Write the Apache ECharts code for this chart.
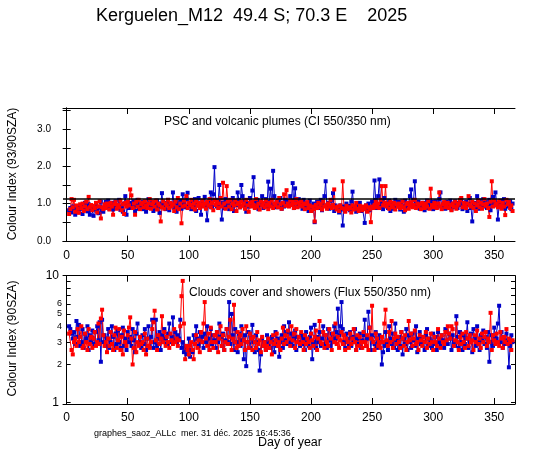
<!DOCTYPE html>
<html lang="fr">
  <head>
    <meta charset="UTF-8" />
    <title>Kerguelen_M12 2025</title>
    <style>
      html, body { margin: 0; padding: 0; background: #fff; }
    </style>
  </head>
  <body>
    <div id="main" style="width: 547px; height: 455px"></div>
    <script src="https://cdn.jsdelivr.net/npm/echarts@6.0.0/dist/echarts.min.js"></script>
    <script>
      // first day of year with a measurement, values follow day by day
      const firstDay = 2;
      const dayTicks = [0, 50, 100, 150, 200, 250, 300, 350];

      // top panel: colour index 550/350 nm, 93/90 SZA
      const ciLabels = [0, 1, 2, 3];
      const ciTicks = [0, 0.5, 1, 1.5, 2, 2.5, 3, 3.5];
      const ciRefLevel = 1.13;

      const ciBlue = [
        0.82, 0.88, 0.76, 0.92, 0.85, 0.70, 0.80, 0.93, 0.78, 0.86,
        0.95, 0.72, 0.88, 1.02, 0.84, 0.79, 0.98, 0.70, 0.88, 0.92,
        0.67, 0.85, 1.00, 0.80, 0.74, 0.90, 1.05, 0.83, 0.78, 0.95,
        1.05, 0.90, 1.08, 0.86, 0.98, 1.02, 0.84, 0.92, 1.06, 0.88,
        0.96, 1.10, 0.83, 0.92, 0.78, 1.00, 1.20, 0.70, 0.95, 0.88,
        1.02, 0.92, 0.98, 1.06, 0.80, 0.95, 1.10, 0.86, 0.98, 0.90,
        1.04, 0.85, 0.96, 0.78, 1.00, 1.12, 0.88, 0.94, 1.05, 0.80,
        0.98, 0.86, 1.08, 0.92, 0.75, 1.00, 1.28, 0.90, 1.02, 0.85,
        0.96, 1.10, 0.82, 1.00, 0.93, 1.30, 0.88, 1.05, 0.78, 1.00,
        0.92, 1.08, 0.86, 1.25, 0.98, 0.90, 1.12, 1.29, 0.94, 1.02,
        0.85, 1.06, 0.96, 1.12, 0.80, 1.00, 1.15, 0.92, 0.70, 1.05,
        0.98, 1.18, 0.88, 0.55, 0.95, 1.08, 1.30, 0.90, 1.25, 1.98,
        1.10, 0.92, 1.05, 1.50, 0.95, 0.57, 1.02, 0.88, 1.12, 0.95,
        1.00, 0.85, 1.08, 0.92, 1.15, 0.80, 1.05, 0.96, 1.30, 1.10,
        0.90, 1.50, 1.20, 0.95, 1.08, 0.78, 1.02, 0.92, 1.15, 0.98,
        1.35, 1.71, 1.05, 0.90, 1.10, 0.85, 1.02, 0.96, 1.20, 0.88,
        1.00, 1.12, 0.92, 1.59, 1.05, 1.40, 0.95, 1.88, 1.20, 1.00,
        0.90, 1.08, 0.96, 1.15, 0.86, 1.02, 0.92, 1.10, 0.98, 1.05,
        1.00, 1.20, 1.08, 1.55, 0.88, 1.41, 1.00, 0.92, 1.12, 0.95,
        1.05, 0.86, 1.10, 0.98, 0.90, 1.02, 0.80, 1.08, 0.95, 0.85,
        1.00, 0.50, 0.92, 1.05, 0.88, 0.96, 1.10, 0.82, 0.98, 1.20,
        1.60, 0.95, 1.02, 0.86, 0.92, 1.08, 1.28, 0.80, 0.95, 0.88,
        0.90, 0.76, 0.95, 0.84, 0.41, 0.92, 0.80, 1.00, 0.86, 0.94,
        0.82, 1.05, 1.32, 0.88, 0.92, 0.78, 0.96, 0.85, 1.02, 0.80,
        0.90, 0.86, 0.48, 0.95, 0.88, 1.00, 0.82, 0.92, 1.05, 0.95,
        1.62, 1.10, 0.88, 1.20, 1.65, 0.92, 1.05, 0.85, 1.15, 0.96,
        1.00, 0.88, 1.08, 0.80, 0.95, 1.02, 0.86, 1.10, 0.92, 0.98,
        1.05, 0.84, 1.00, 0.92, 0.78, 1.08, 0.95, 0.88, 1.02, 1.20,
        1.38, 0.95, 1.10, 1.60, 1.00, 0.90, 1.05, 0.86, 0.98, 0.92,
        1.02, 0.82, 0.96, 1.08, 0.88, 1.00, 0.92, 1.05, 0.85, 0.98,
        1.06, 0.90, 1.00, 1.12, 1.30, 0.88, 0.96, 1.02, 0.86, 1.05,
        0.92, 0.98, 1.08, 0.84, 1.00, 0.90, 1.06, 0.95, 0.88, 1.02,
        0.96, 1.10, 0.85, 1.00, 0.92, 1.05, 0.80, 0.98, 1.15, 0.88,
        0.52, 0.95, 1.02, 0.90, 1.20, 0.86, 1.08, 0.95, 1.00, 1.12,
        0.92, 1.05, 0.88, 0.98, 1.10, 0.82, 1.00, 1.18, 0.95, 1.30,
        1.02, 0.57, 0.96, 1.08, 0.90, 1.00, 1.12, 0.86, 0.98, 1.05,
        0.92, 1.06, 0.85, 1.00
      ];

      const ciRed = [
        0.72, 0.85, 1.12, 0.90, 1.10, 0.78, 0.95, 0.86, 0.75, 0.98,
        0.88, 1.00, 0.80, 0.92, 1.05, 0.85, 1.18, 0.90, 0.96, 0.82,
        0.94, 0.88, 1.02, 0.76, 0.92, 1.06, 0.60, 0.90, 0.85, 0.98,
        0.88, 1.00, 0.95, 0.84, 1.02, 0.92, 0.70, 0.98, 1.04, 0.86,
        0.96, 0.90, 1.08, 0.82, 0.98, 0.72, 1.02, 0.92, 1.05, 0.95,
        1.38, 1.22, 0.88, 1.00, 0.70, 1.05, 0.92, 1.10, 0.85, 0.98,
        1.02, 0.90, 1.06, 0.95, 0.88, 1.00, 1.12, 0.86, 0.98, 1.04,
        0.92, 1.08, 0.84, 1.00, 0.95, 0.52, 0.90, 1.06, 0.86, 1.00,
        0.95, 1.10, 0.88, 1.02, 0.92, 0.98, 0.80, 1.05, 0.90, 1.15,
        0.85, 1.00, 0.47, 0.92, 1.08, 0.95, 1.20, 0.88, 1.02, 0.96,
        1.10, 0.90, 1.00, 0.84, 1.06, 0.94, 1.02, 0.88, 0.98, 1.08,
        0.92, 1.00, 0.86, 1.05, 0.95, 1.12, 0.90, 1.02, 0.82, 1.10,
        0.96, 1.05, 0.88, 1.00, 1.15, 0.92, 1.56, 1.00, 0.86, 1.47,
        1.05, 0.92, 1.10, 0.85, 1.00, 0.95, 1.08, 0.80, 0.98, 1.02,
        0.90, 1.06, 0.94, 1.00, 0.86, 1.10, 0.95, 0.78, 1.02, 0.92,
        1.05, 0.96, 0.88, 1.12, 0.92, 1.00, 0.84, 1.06, 0.95, 1.02,
        0.90, 1.08, 0.96, 0.85, 1.02, 0.92, 1.10, 0.88, 1.00, 0.95,
        1.05, 0.90, 1.15, 0.98, 0.86, 1.02, 1.25, 0.94, 1.36, 1.00,
        0.92, 1.08, 0.96, 1.05, 0.88, 1.00, 1.12, 0.90, 1.02, 0.95,
        1.06, 0.92, 1.00, 0.85, 0.98, 1.04, 0.88, 0.95, 0.80, 0.92,
        0.85, 0.52, 0.96, 0.88, 1.02, 0.90, 0.98, 0.84, 1.05, 0.92,
        0.95, 0.86, 1.00, 0.92, 1.10, 0.88, 0.96, 1.38, 0.90, 0.84,
        0.92, 0.80, 0.95, 0.88, 1.60, 0.86, 0.78, 0.94, 0.85, 0.90,
        0.88, 0.76, 0.95, 0.84, 0.92, 1.02, 0.86, 0.80, 0.94, 0.88,
        0.82, 0.92, 0.86, 0.95, 0.78, 0.90, 0.84, 0.50, 0.92, 0.88,
        0.96, 1.05, 0.90, 1.00, 0.88, 1.10, 1.47, 0.95, 1.02, 1.47,
        0.92, 1.00, 0.86, 1.05, 0.95, 0.90, 1.02, 0.84, 0.98, 0.92,
        1.00, 0.88, 0.95, 1.06, 0.90, 0.82, 0.98, 1.02, 0.86, 0.94,
        1.04, 0.90, 0.96, 1.10, 0.88, 1.00, 0.92, 0.98, 0.85, 1.02,
        0.95, 0.88, 1.00, 0.92, 1.06, 0.86, 1.40, 0.96, 0.90, 1.02,
        0.94, 0.88, 1.00, 1.30, 0.92, 0.85, 0.98, 1.04, 0.90, 0.95,
        1.02, 0.88, 0.96, 0.82, 1.00, 0.92, 1.05, 0.86, 0.95, 1.00,
        1.10, 1.15, 0.90, 1.02, 0.94, 0.88, 1.00, 1.20, 0.96, 0.92,
        1.05, 0.88, 1.00, 0.80, 0.95, 1.08, 0.90, 1.02, 0.86, 0.98,
        1.12, 0.94, 1.00, 0.88, 0.64, 1.05, 1.60, 0.92, 1.08, 0.96,
        1.00, 0.90, 1.06, 0.95, 0.86, 1.02, 0.92, 0.69, 1.10, 0.98,
        1.04, 0.88, 0.95, 0.80
      ];

      // bottom panel: flux ratio 550/350 nm, 90 SZA (log scale)
      const fluxMin = 0.977;
      const fluxMax = 10;
      const fluxTicks = [1, 2, 3, 4, 5, 6, 7, 8, 9, 10];
      const fluxLabels = [1, 2, 3, 4, 5, 6, 10];

      const fluxBlue = [
        4.0, 3.8, 3.5, 3.2, 3.6, 2.9, 4.4, 3.3, 4.1, 2.8,
        3.0, 3.8, 2.7, 3.5, 3.2, 4.0, 2.6, 3.4, 3.0, 3.7,
        3.2, 2.9, 3.6, 4.0, 3.1, 4.3, 2.1, 4.5, 3.0, 3.4,
        2.8, 3.2, 3.8, 2.7, 3.0, 4.0, 3.3, 2.6, 3.5, 2.9,
        3.7, 3.0, 2.7, 3.4, 3.9, 2.8, 3.2, 2.6, 3.6, 3.0,
        3.3, 2.8, 3.8, 3.1, 2.5, 3.5, 4.2, 2.9, 3.0, 2.7,
        3.4, 2.9, 3.8, 2.6, 3.2, 4.0, 2.8, 3.3, 4.5, 2.7,
        3.0, 4.5, 2.8, 3.2, 3.6, 2.6, 3.4, 3.0, 3.8, 3.2,
        2.9, 3.5, 4.2, 3.0, 3.3, 4.7, 3.1, 3.6, 3.0, 3.4,
        3.2, 4.5, 2.7, 3.0, 2.5, 2.8, 2.4, 2.6, 3.2, 2.3,
        2.6, 2.5, 3.4, 2.9, 4.0, 3.2, 2.8, 3.6, 3.0, 3.3,
        2.7, 3.5, 3.0, 4.0, 3.2, 2.6, 3.8, 2.9, 3.4, 3.1,
        2.7, 3.6, 3.0, 4.2, 3.3, 2.8, 3.5, 2.6, 3.1, 3.8,
        3.0, 6.2, 2.9, 5.0, 3.4, 2.6, 3.8, 3.0, 2.5, 3.5,
        2.8, 4.0, 3.1, 2.2, 3.4, 1.94, 3.0, 3.6, 2.7, 3.2,
        4.1, 3.0, 2.5, 3.4, 3.0, 2.6, 1.79, 2.4, 3.2, 2.8,
        3.0, 2.6, 3.4, 2.9, 3.1, 2.7, 3.3, 3.0, 2.5, 3.6,
        2.8, 3.2, 2.3, 3.0, 3.4, 2.7, 4.0, 3.1, 3.6, 2.9,
        4.3, 3.0, 3.5, 2.8, 3.2, 3.7, 2.6, 3.3, 3.0, 2.8,
        3.4, 2.9, 3.2, 2.6, 3.6, 3.0, 2.8, 3.3, 3.9, 2.2,
        3.0, 4.1, 2.7, 3.3, 3.0, 3.6, 2.8, 3.2, 4.0, 2.9,
        3.4, 2.7, 3.8, 3.1, 2.8, 3.5, 3.0, 4.0, 3.2, 3.6,
        5.5, 3.4, 4.0, 6.2, 3.8, 3.0, 2.7, 3.5, 3.2, 2.9,
        3.6, 2.8, 3.3, 3.0, 3.8, 2.6, 3.2, 2.9, 3.5, 2.7,
        3.1, 3.4, 4.5, 2.8, 3.2, 5.2, 3.9, 2.6, 3.4, 3.0,
        2.9, 3.6, 2.7, 3.2, 3.4, 3.0, 2.0, 2.5, 2.8, 3.6,
        3.0, 2.6, 4.0, 3.2, 2.9, 3.5, 2.7, 4.2, 3.1, 2.6,
        3.3, 2.8, 3.6, 2.4, 3.2, 2.9, 3.8, 2.6, 3.4, 3.0,
        2.7, 3.5, 3.1, 2.8, 4.0, 2.5, 3.2, 3.6, 2.9, 3.3,
        3.0, 2.6, 3.4, 3.8, 2.8, 3.2, 3.0, 2.7, 3.5, 2.9,
        3.3, 2.6, 3.6, 3.0, 2.8, 3.4, 3.1, 2.7, 3.8, 3.0,
        2.9, 3.5, 3.2, 2.6, 3.4, 3.0, 2.8, 4.8, 3.3, 2.7,
        3.6, 3.0, 2.6, 3.4, 2.9, 3.2, 4.3, 2.7, 3.0, 3.5,
        2.5, 3.8, 3.2, 2.8, 4.0, 3.0, 2.6, 3.4, 3.1, 3.7,
        2.9, 3.3, 2.7, 3.6, 2.1, 3.0, 3.4, 2.8, 3.9, 3.2,
        3.2, 4.2, 5.8, 3.0, 3.6, 2.7, 3.3, 2.9, 3.5, 3.1,
        1.9, 2.8, 3.4, 3.0
      ];

      const fluxRed = [
        3.5, 3.6, 2.6, 2.4, 3.0, 3.2, 2.8, 3.8, 3.0, 3.3,
        4.0, 2.7, 2.8, 3.5, 3.0, 2.6, 3.8, 2.9, 3.3, 2.7,
        3.2, 3.6, 2.8, 3.0, 4.2, 2.9, 4.6, 5.4, 3.4, 2.8,
        3.0, 2.5, 3.2, 2.8, 3.6, 2.9, 2.6, 3.4, 3.9, 2.7,
        3.1, 3.8, 2.6, 3.3, 2.4, 3.7, 3.0, 2.8, 3.4, 3.9,
        4.7, 3.2, 2.0, 2.7, 3.6, 2.5, 3.0, 2.8, 3.3, 2.9,
        3.0, 2.6, 3.5, 2.4, 3.2, 2.8, 2.7, 3.0, 3.8, 4.3,
        5.3, 3.1, 2.6, 3.4, 2.9, 3.2, 4.8, 3.0, 3.6, 2.8,
        3.3, 3.0, 2.7, 3.5, 3.1, 2.9, 3.8, 3.0, 3.2, 2.8,
        3.1, 4.0, 6.9, 9.1, 4.2, 2.2, 2.8, 2.6, 2.4, 2.8,
        3.0, 2.6, 2.2, 2.9, 3.4, 2.7, 3.1, 2.5, 3.6, 3.0,
        4.2, 6.2, 3.2, 2.8, 3.5, 2.6, 3.9, 3.0, 2.7, 3.4,
        3.0, 3.6, 2.5, 3.2, 4.0, 2.8, 3.4, 2.6, 3.0, 3.8,
        2.9, 3.3, 4.5, 2.6, 3.2, 5.9, 3.0, 2.7, 3.6, 2.8,
        3.4, 2.9, 3.8, 3.1, 2.6, 4.0, 3.0, 2.7, 3.5, 3.2,
        2.6, 3.3, 3.0, 2.7, 3.6, 2.9, 3.1, 2.5, 3.3, 2.8,
        3.0, 2.6, 2.8, 3.2, 2.7, 3.0, 2.4, 3.4, 2.9, 3.1,
        3.5, 2.8, 3.0, 2.6, 3.2, 3.9, 2.9, 3.4, 3.0, 3.7,
        3.2, 2.8, 4.0, 3.1, 3.5, 2.7, 3.8, 3.0, 3.3, 2.9,
        3.6, 3.0, 2.6, 3.4, 2.9, 3.2, 3.0, 2.7, 3.5, 3.1,
        2.8, 3.3, 3.7, 2.6, 3.2, 4.4, 3.0, 2.9, 3.6, 2.7,
        3.4, 3.0, 2.8, 3.8, 3.2, 2.6, 3.5, 3.0, 4.2, 2.9,
        3.3, 2.7, 3.1, 3.6, 2.9, 3.4, 2.6, 3.2, 3.0, 2.7,
        3.5, 2.9, 3.2, 3.8, 3.0, 2.6, 3.4, 2.8, 3.3, 3.0,
        2.7, 3.6, 3.0, 2.8, 3.4, 2.6, 3.9, 3.2, 5.8, 3.0,
        2.6, 3.5, 3.2, 2.8, 3.0, 2.7, 3.3, 3.0, 4.2, 5.4,
        3.1, 2.8, 3.6, 3.0, 4.4, 2.7, 3.2, 3.5, 2.9, 3.3,
        3.0, 2.7, 3.6, 3.2, 2.8, 3.4, 2.6, 3.0, 4.4, 3.1,
        3.5, 2.8, 3.2, 3.7, 2.9, 3.0, 2.6, 3.4, 3.1, 2.8,
        3.3, 3.0, 3.6, 2.7, 3.2, 2.9, 3.5, 3.0, 2.6, 3.3,
        3.0, 2.8, 3.8, 3.2, 2.7, 3.4, 3.0, 2.9, 3.6, 3.1,
        4.0, 3.5, 3.2, 4.0, 3.8, 2.8, 3.1, 4.2, 3.0, 2.6,
        3.3, 2.9, 3.5, 3.0, 2.7, 3.6, 3.2, 2.8, 3.4, 3.0,
        3.1, 2.6, 3.4, 3.0, 3.7, 2.9, 3.2, 2.7, 3.5, 3.0,
        3.3, 3.6, 2.8, 3.2, 3.0, 5.1, 2.6, 3.4, 3.1, 2.9,
        3.5, 3.0, 2.8, 3.6, 3.2, 2.7, 3.3, 3.0, 3.8, 2.9,
        3.2, 3.0, 2.6, 3.1
      ];

      const BLUE = "#0000c8";
      const RED = "#ff0000";
      const FONT = "Liberation Sans, Arial, sans-serif";

      function withDays(values) {
        return values.map((v, i) => [firstDay + i, v]);
      }

      function dayAxis(gridIndex, position, showLabels) {
        return {
          type: "value",
          gridIndex: gridIndex,
          position: position,
          min: -3,
          max: 367,
          splitLine: { show: false },
          axisLine: { onZero: false, lineStyle: { color: "#000", width: 1 } },
          axisTick: {
            inside: true,
            length: 6,
            customValues: dayTicks,
            lineStyle: { color: "#000" },
          },
          axisLabel: {
            show: showLabels,
            customValues: dayTicks,
            margin: 8,
            color: "#000",
            fontSize: 12,
            fontFamily: FONT,
          },
        };
      }

      function pointSeries(name, values, color, xi, yi) {
        return {
          name: name,
          type: "line",
          xAxisIndex: xi,
          yAxisIndex: yi,
          data: withDays(values),
          symbol: "rect",
          symbolSize: 4,
          showAllSymbol: true,
          lineStyle: { color: color, width: 1 },
          itemStyle: { color: color },
          animation: false,
        };
      }

      const logTickPos = fluxTicks.map((v) => Math.log10(v));
      const logLabelPos = fluxLabels.map((v) => Math.log10(v));

      var chartDom = document.getElementById("main");
      var myChart = echarts.init(chartDom, null, { renderer: "canvas" });
      var option;

      option = {
        backgroundColor: "#fff",
        animation: false,
        grid: [
          { left: 63, top: 108, width: 452, height: 133.5 },
          { left: 63, top: 275.7, width: 452, height: 128.3 },
        ],
        xAxis: [
          dayAxis(0, "bottom", true),
          dayAxis(0, "top", false),
          dayAxis(1, "bottom", true),
          dayAxis(1, "top", false),
        ],
        yAxis: [
          {
            type: "value",
            gridIndex: 0,
            position: "left",
            min: -0.02,
            max: 3.57,
            splitLine: { show: false },
            axisLine: { show: true, lineStyle: { color: "#000" } },
            axisTick: {
              inside: true,
              length: 4,
              customValues: ciTicks,
              lineStyle: { color: "#000" },
            },
            axisLabel: {
              customValues: ciLabels,
              formatter: (v) => v.toFixed(1),
              margin: 12,
              color: "#000",
              fontSize: 10,
              fontFamily: FONT,
            },
          },
          {
            type: "value",
            gridIndex: 0,
            position: "right",
            min: -0.02,
            max: 3.57,
            splitLine: { show: false },
            axisLine: { show: true, lineStyle: { color: "#000" } },
            axisTick: {
              inside: true,
              length: 4,
              customValues: ciTicks,
              lineStyle: { color: "#000" },
            },
            axisLabel: { show: false },
          },
          {
            // log scale carrying the flux points
            type: "log",
            logBase: 10,
            gridIndex: 1,
            position: "left",
            min: fluxMin,
            max: fluxMax,
            splitLine: { show: false },
            axisLine: { show: true, lineStyle: { color: "#000" } },
            axisTick: { show: false },
            axisLabel: { show: false },
          },
          {
            // tick marks at 1..10 on the same log grid
            type: "value",
            gridIndex: 1,
            position: "left",
            min: Math.log10(fluxMin),
            max: Math.log10(fluxMax),
            splitLine: { show: false },
            axisLine: { show: false },
            axisTick: {
              inside: true,
              length: 4,
              customValues: logTickPos,
              lineStyle: { color: "#000" },
            },
            axisLabel: {
              customValues: logLabelPos,
              margin: 1,
              color: "#000",
              formatter: (v) => {
                const n = Math.round(Math.pow(10, v));
                return n === 1 || n === 10 ? "{big|" + n + "}" : "{small|" + n + "}";
              },
              rich: {
                big: { fontSize: 12, fontFamily: FONT, color: "#000", padding: [0, 3, 0, 0] },
                small: { fontSize: 9, fontFamily: FONT, color: "#000" },
              },
            },
          },
          {
            type: "value",
            gridIndex: 1,
            position: "right",
            min: Math.log10(fluxMin),
            max: Math.log10(fluxMax),
            splitLine: { show: false },
            axisLine: { show: true, lineStyle: { color: "#000" } },
            axisTick: {
              inside: true,
              length: 4,
              customValues: logTickPos,
              lineStyle: { color: "#000" },
            },
            axisLabel: { show: false },
          },
        ],
        graphic: [
          {
            type: "text",
            x: 96,
            y: 16,
            style: {
              text: "Kerguelen_M12  49.4 S; 70.3 E    2025",
              font: "18px " + FONT,
              fill: "#000",
              align: "left",
              verticalAlign: "middle",
            },
          },
          {
            type: "text",
            x: 164,
            y: 122,
            style: {
              text: "PSC and volcanic plumes (CI 550/350 nm)",
              font: "12px " + FONT,
              fill: "#000",
              align: "left",
              verticalAlign: "middle",
            },
          },
          {
            type: "text",
            x: 189,
            y: 293,
            style: {
              text: "Clouds cover and showers (Flux 550/350 nm)",
              font: "12px " + FONT,
              fill: "#000",
              align: "left",
              verticalAlign: "middle",
            },
          },
          {
            type: "text",
            x: 12.5,
            y: 174,
            rotation: Math.PI / 2,
            style: {
              text: "Colour Index (93/90SZA)",
              font: "12px " + FONT,
              fill: "#000",
              align: "center",
              verticalAlign: "middle",
            },
          },
          {
            type: "text",
            x: 12.5,
            y: 338.5,
            rotation: Math.PI / 2,
            style: {
              text: "Colour Index (90SZA)",
              font: "12px " + FONT,
              fill: "#000",
              align: "center",
              verticalAlign: "middle",
            },
          },
          {
            type: "text",
            x: 290,
            y: 443,
            style: {
              text: "Day of year",
              font: "12.5px " + FONT,
              fill: "#000",
              align: "center",
              verticalAlign: "middle",
            },
          },
          {
            type: "text",
            x: 94,
            y: 434,
            style: {
              text: "graphes_saoz_ALLc  mer. 31 déc. 2025 16:45:36",
              font: "9px " + FONT,
              fill: "#000",
              align: "left",
              verticalAlign: "middle",
            },
          },
        ],
        series: [
          pointSeries("CI 93/90", ciBlue, BLUE, 0, 0),
          Object.assign(pointSeries("CI 90", ciRed, RED, 0, 0), {
            markLine: {
              silent: true,
              symbol: "none",
              label: { show: false },
              lineStyle: { color: "#000", width: 1.5, type: "solid" },
              data: [{ yAxis: ciRefLevel }],
            },
          }),
          pointSeries("Flux 93/90", fluxBlue, BLUE, 2, 2),
          pointSeries("Flux 90", fluxRed, RED, 2, 2),
        ],
      };

      myChart.setOption(option);
    </script>
  </body>
</html>
